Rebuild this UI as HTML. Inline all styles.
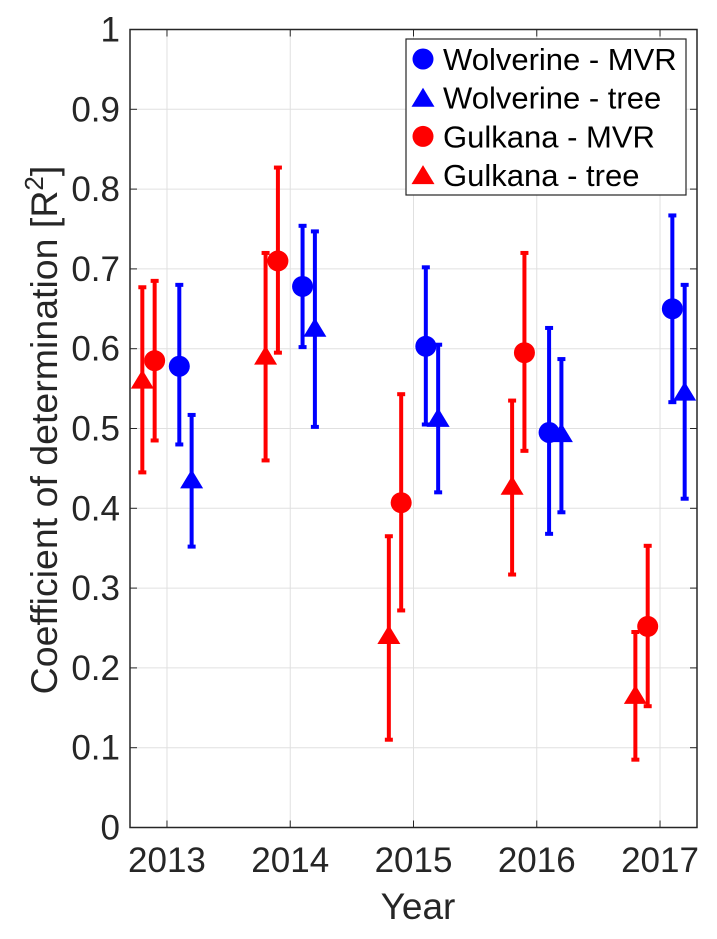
<!DOCTYPE html>
<html><head><meta charset="utf-8"><style>
html,body{margin:0;padding:0;background:#fff;}
svg{display:block;font-family:"Liberation Sans",Arial,sans-serif;}
</style></head><body>
<svg id="chart" width="717" height="939" viewBox="0 0 717 939">
<rect x="0" y="0" width="717" height="939" fill="#fff"/>
<g id="grid"></g>
<g id="axes"></g>
<g id="series"></g>
<text x="418" y="919" font-size="37" fill="#262626" text-anchor="middle">Year</text>
<text transform="translate(57,430) rotate(-90)" font-size="37.5" fill="#262626" text-anchor="middle">Coefficient of determination [R<tspan dy="-14" font-size="26">2</tspan><tspan dy="14">]</tspan></text>
<g id="legend"></g>
</svg>
<script>
const years = [2013, 2014, 2015, 2016, 2017];
const seriesNames = ["Wolverine - MVR", "Wolverine - tree", "Gulkana - MVR", "Gulkana - tree"];
const wmVal = [0.578, 0.678, 0.603, 0.495, 0.650];
const wmLo  = [0.480, 0.602, 0.505, 0.368, 0.533];
const wmHi  = [0.680, 0.754, 0.702, 0.626, 0.767];
const wtVal = [0.435, 0.625, 0.512, 0.493, 0.545];
const wtLo  = [0.352, 0.502, 0.420, 0.395, 0.412];
const wtHi  = [0.517, 0.747, 0.605, 0.587, 0.680];
const gmVal = [0.585, 0.710, 0.407, 0.595, 0.252];
const gmLo  = [0.485, 0.595, 0.272, 0.472, 0.152];
const gmHi  = [0.685, 0.827, 0.543, 0.720, 0.353];
const gtVal = [0.560, 0.590, 0.240, 0.427, 0.165];
const gtLo  = [0.445, 0.460, 0.110, 0.317, 0.085];
const gtHi  = [0.677, 0.720, 0.365, 0.535, 0.245];
const yTicks = [0,0.1,0.2,0.3,0.4,0.5,0.6,0.7,0.8,0.9,1];
const yTickLabels = ["0","0.1","0.2","0.3","0.4","0.5","0.6","0.7","0.8","0.9","1"];

const NS="http://www.w3.org/2000/svg";
const L=130,R=697,T=29.5,B=827.5, XMIN=2012.7, XMAX=2017.3;
const xs=v=>L+(v-XMIN)/(XMAX-XMIN)*(R-L);
const ys=v=>B-v*(B-T);
function mk(tag,attrs,parent){const e=document.createElementNS(NS,tag);for(const k in attrs)e.setAttribute(k,attrs[k]);parent.appendChild(e);return e;}
const grid=document.getElementById('grid'),axes=document.getElementById('axes'),ser=document.getElementById('series'),leg=document.getElementById('legend');

yTicks.forEach((v,i)=>{
  const y=ys(v);
  if(v>0&&v<1){const g=mk('line',{x1:L,x2:R,y1:y,y2:y,stroke:'#e0e0e0','stroke-width':1},grid);
  
  }
  const t1=mk('line',{x1:L,x2:L+7,y1:y,y2:y,stroke:'#262626','stroke-width':1},axes);
  
  
  const t2=mk('line',{x1:R,x2:R-7,y1:y,y2:y,stroke:'#262626','stroke-width':1},axes);
  
  
  const tx=mk('text',{x:L-10,y:y+12,'font-size':35,fill:'#262626','text-anchor':'end'},axes);
  tx.textContent=yTickLabels[i];
  
  
});
years.forEach(yr=>{
  const x=xs(yr);
  const g=mk('line',{x1:x,x2:x,y1:T,y2:B,stroke:'#e0e0e0','stroke-width':1},grid);
  
  
  const t1=mk('line',{x1:x,x2:x,y1:B,y2:B-7,stroke:'#262626','stroke-width':1},axes);
  
  
  const t2=mk('line',{x1:x,x2:x,y1:T,y2:T+7,stroke:'#262626','stroke-width':1},axes);
  
  
  const tx=mk('text',{x:x,y:872,'font-size':35,fill:'#262626','text-anchor':'middle'},axes);
  tx.textContent=yr;
  
  
});
const frame=mk('rect',{x:L,y:T,width:R-L,height:B-T,fill:'none',stroke:'#262626','stroke-width':1.5},axes);



function marker(shape,cx,cy,color,parent){
  let m;
  if(shape==='circle'){m=mk('circle',{cx:cx,cy:cy,r:10.5,fill:color},parent);}
  else{m=mk('polygon',{points:`${cx-11.5},${cy+8} ${cx+11.5},${cy+8} ${cx},${cy-11}`,fill:color},parent);}
  return m;
}
const defs=[
 {vals:wmVal,lo:wmLo,hi:wmHi,off:0.1,color:'#0000ff',shape:'circle',name:'wolverine-mvr'},
 {vals:wtVal,lo:wtLo,hi:wtHi,off:0.2,color:'#0000ff',shape:'tri',name:'wolverine-tree'},
 {vals:gmVal,lo:gmLo,hi:gmHi,off:-0.1,color:'#ff0000',shape:'circle',name:'gulkana-mvr'},
 {vals:gtVal,lo:gtLo,hi:gtHi,off:-0.2,color:'#ff0000',shape:'tri',name:'gulkana-tree'}
];
defs.forEach(d=>{
  years.forEach((yr,i)=>{
    const x=xs(yr+d.off),c=d.color;
    const g=mk('g',{},ser);
    
    
    mk('line',{x1:x,x2:x,y1:ys(d.lo[i]),y2:ys(d.hi[i]),stroke:c,'stroke-width':4},g);
    mk('line',{x1:x-4,x2:x+4,y1:ys(d.lo[i]),y2:ys(d.lo[i]),stroke:c,'stroke-width':4},g);
    mk('line',{x1:x-4,x2:x+4,y1:ys(d.hi[i]),y2:ys(d.hi[i]),stroke:c,'stroke-width':4},g);
    marker(d.shape,x,ys(d.vals[i]),c,g);
  });
});
const lb=mk('rect',{x:406,y:39,width:280,height:156,fill:'#fff',stroke:'#262626','stroke-width':1.2},leg);


defs.forEach((d,i)=>{
  const cy=59+i*38.7;
  const g=mk('g',{},leg);
  
  
  marker(d.shape,423,cy+(d.shape==='tri'?1:0),d.color,g);
  const t=mk('text',{x:443,y:cy+11,'font-size':31,fill:'#000'},g);
  t.textContent=seriesNames[i];
});
</script>
</body></html>
